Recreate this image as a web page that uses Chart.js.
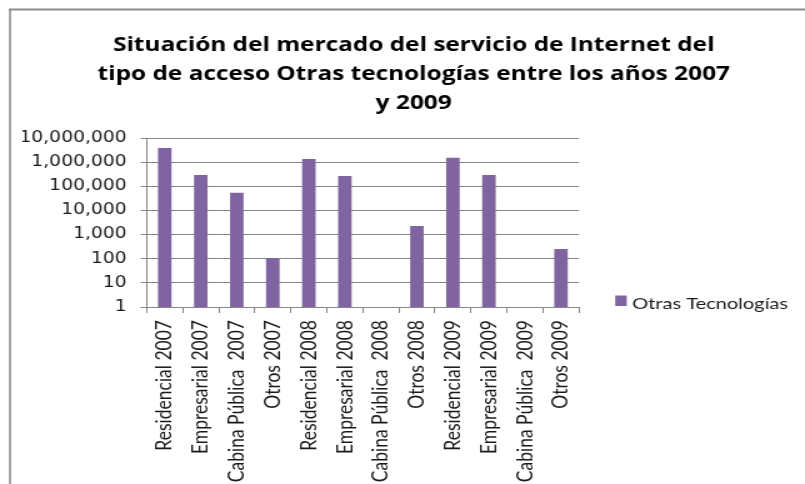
<!DOCTYPE html>
<html><head><meta charset="utf-8">
<script src="https://cdn.jsdelivr.net/npm/chart.js@4.4.1/dist/chart.umd.min.js"></script>
<style>
html,body{margin:0;padding:0;background:#fff;overflow:hidden;width:805px;height:484px}
#wrap{position:absolute;left:0;top:0;width:644px;height:484px;transform:scaleX(1.25);transform-origin:0 0}
</style></head><body>
<div id="wrap"><canvas id="c"></canvas></div>
<script>
const categories = [
  "Residencial 2007", "Empresarial 2007", "Cabina Pública  2007", "Otros 2007",
  "Residencial 2008", "Empresarial 2008", "Cabina Pública  2008", "Otros 2008",
  "Residencial 2009", "Empresarial 2009", "Cabina Pública  2009", "Otros 2009"
];
const seriesLabel = "Otras Tecnologías";
const seriesValues = [3850000, 294000, 54000, 107, 1350000, 267000, null, 2270, 1530000, 294000, null, 253];
const yTickValues = [1, 10, 100, 1000, 10000, 100000, 1000000, 10000000];
const titleLines = [
  "Situación del mercado del servicio de Internet del",
  "tipo de acceso Otras tecnologías entre los años 2007",
  "y 2009"
];

const frame = {
  id: 'frame',
  beforeDraw(chart) {
    const ctx = chart.ctx;
    ctx.save();
    ctx.fillStyle = '#fff';
    ctx.fillRect(0, 0, chart.width, chart.height);
    ctx.strokeStyle = '#8c8c8c';
    ctx.lineWidth = 2;
    ctx.beginPath(); ctx.moveTo(7, 9.5); ctx.lineTo(chart.width, 9.5); ctx.stroke();
    ctx.lineWidth = 1.6;
    ctx.beginPath(); ctx.moveTo(8, 9.5); ctx.lineTo(8, chart.height); ctx.stroke();
    ctx.restore();
  }
};
const sideLegend = {
  id: 'sideLegend',
  afterDraw(chart) {
    const ds = chart.data.datasets[0];
    const ctx = chart.ctx;
    const x = chart.chartArea.right + 29;
    ctx.save();
    ctx.fillStyle = ds.backgroundColor;
    ctx.fillRect(x, 295.5, 9.2, 10.5);
    ctx.fillStyle = '#1a1a1a';
    ctx.font = '16px Lato';
    ctx.textBaseline = 'alphabetic';
    ctx.fillText(ds.label, x + 13.6, 309);
    ctx.restore();
  }
};

new Chart(document.getElementById('c'), {
  type: 'bar',
  data: {
    labels: categories,
    datasets: [{
      label: seriesLabel,
      data: seriesValues,
      backgroundColor: '#8064A2',
      borderWidth: 0,
      barPercentage: 0.375,
      categoryPercentage: 1
    }]
  },
  options: {
    responsive: true,
    maintainAspectRatio: false,
    animation: false,
    layout: { padding: { left: 18, right: 0, top: 0, bottom: 0 } },
    plugins: {
      legend: { display: false },
      tooltip: { enabled: false },
      title: {
        display: true,
        text: titleLines,
        color: '#000',
        font: { family: 'Open Sans', weight: 'bold', size: 19.5, lineHeight: '29px' },
        padding: { top: 31, bottom: 20 }
      }
    },
    scales: {
      x: {
        type: 'category',
        offset: true,
        grid: { display: true, drawOnChartArea: false, drawTicks: true, tickLength: 6, color: '#868686', offset: true },
        border: { display: true, color: '#868686' },
        ticks: { minRotation: 90, maxRotation: 90, autoSkip: false, padding: 7, color: '#1a1a1a',
                 font: { family: 'Lato', size: 17.5 } },
        afterFit(s) { s.height = 177; }
      },
      y: {
        type: 'logarithmic',
        min: 1,
        max: 10000000,
        afterBuildTicks(s) { s.ticks = yTickValues.map(v => ({ value: v })); },
        grid: { color: '#868686', tickLength: 5 },
        border: { display: true, color: '#868686' },
        ticks: {
          padding: 11,
          color: '#1a1a1a',
          font: { family: 'DejaVu Sans', size: 15 },
          callback: (v) => Number(v).toLocaleString('en-US')
        },
        afterFit(s) { s.width = 99.4; }
      },
      legendSpace: {
        type: 'linear',
        position: 'right',
        display: true,
        grid: { display: false },
        border: { display: false },
        ticks: { display: false },
        afterFit(s) { s.width = 180.8; }
      }
    }
  },
  plugins: [frame, sideLegend]
});
</script>
</body></html>
